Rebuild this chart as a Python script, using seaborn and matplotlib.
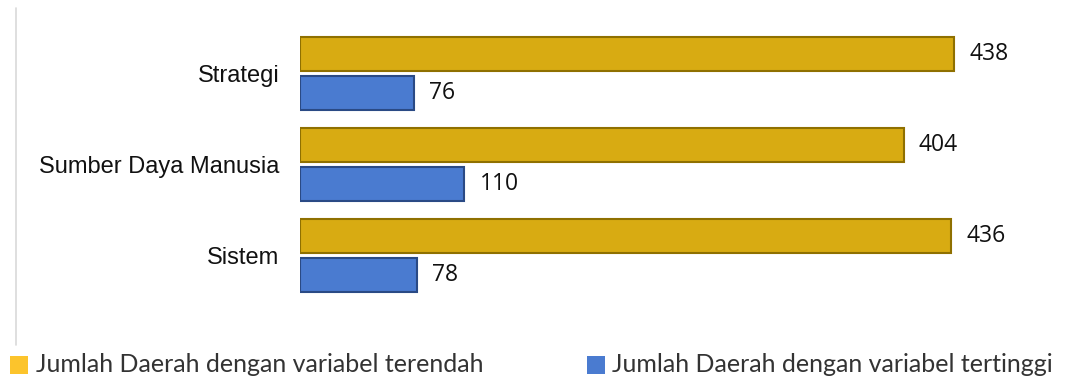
import pandas as pd
import matplotlib.pyplot as plt
import seaborn as sns
from matplotlib.patches import Rectangle
from matplotlib.lines import Line2D

# Data
categories = ["Strategi", "Sumber Daya Manusia", "Sistem"]
terendah = [438, 404, 436]
tertinggi = [76, 110, 78]
series_names = ["Jumlah Daerah dengan variabel terendah",
                "Jumlah Daerah dengan variabel tertinggi"]

df = pd.DataFrame({
    "kategori": categories * 2,
    "nilai": terendah + tertinggi,
    "seri": [series_names[0]] * 3 + [series_names[1]] * 3,
})

bar_colors = ["#D8AB12", "#4A7BD0"]
edge_colors = ["#8F7000", "#2A4A85"]
legend_colors = ["#FCC42C", "#4A7BD0"]

sns.set_style("white")

fig = plt.figure(figsize=(10.8, 3.81), dpi=100)
ax = fig.add_axes([300 / 1080, 80 / 381, 747 / 1080, 273 / 381])

sns.barplot(data=df, y="kategori", x="nilai", hue="seri", orient="h",
            palette=bar_colors, saturation=1, width=0.8, ax=ax, legend=False)

# bevel-ish edges, slight gap between paired bars
for i, cont in enumerate(ax.containers):
    for bar in cont:
        bar.set_edgecolor(edge_colors[i])
        bar.set_linewidth(1.5)
        h = bar.get_height()
        bar.set_height(h * 0.93)
        if i == 1:
            bar.set_y(bar.get_y() + h * 0.07)
    labels = [str(int(v)) for v in cont.datavalues]
    ax.bar_label(cont, labels=labels, padding=11, fontsize=16.5,
                 family="Open Sans", color="#111111")

ax.set_xlim(0, 500)
ax.set_ylim(2.5, -0.5)
ax.set_xlabel("")
ax.set_ylabel("")
ax.set_xticks([])
ax.tick_params(axis="y", length=0, pad=15)
for t in ax.get_yticklabels():
    t.set_family("Liberation Sans")
    t.set_fontsize(17)
    t.set_color("#111111")
for s in ax.spines.values():
    s.set_visible(False)

# thin gray line at the left
fig.add_artist(Line2D([16 / 1080, 16 / 1080], [1 - 8 / 381, 1 - 345 / 381],
                      color="#D9D9D9", lw=1.2, transform=fig.transFigure))

# legend
ly = 1 - 365 / 381
for x0, tx, name, col in [(10, 36, series_names[0], legend_colors[0]),
                          (587, 612, series_names[1], legend_colors[1])]:
    fig.add_artist(Rectangle((x0 / 1080, 1 - 374 / 381), 18 / 1080, 18 / 381,
                             facecolor=col, edgecolor="none",
                             transform=fig.transFigure))
    fig.text(tx / 1080, ly, name, fontsize=18, family="Lato",
             color="#333333", va="center", ha="left")

plt.savefig("out.png", dpi=100)
